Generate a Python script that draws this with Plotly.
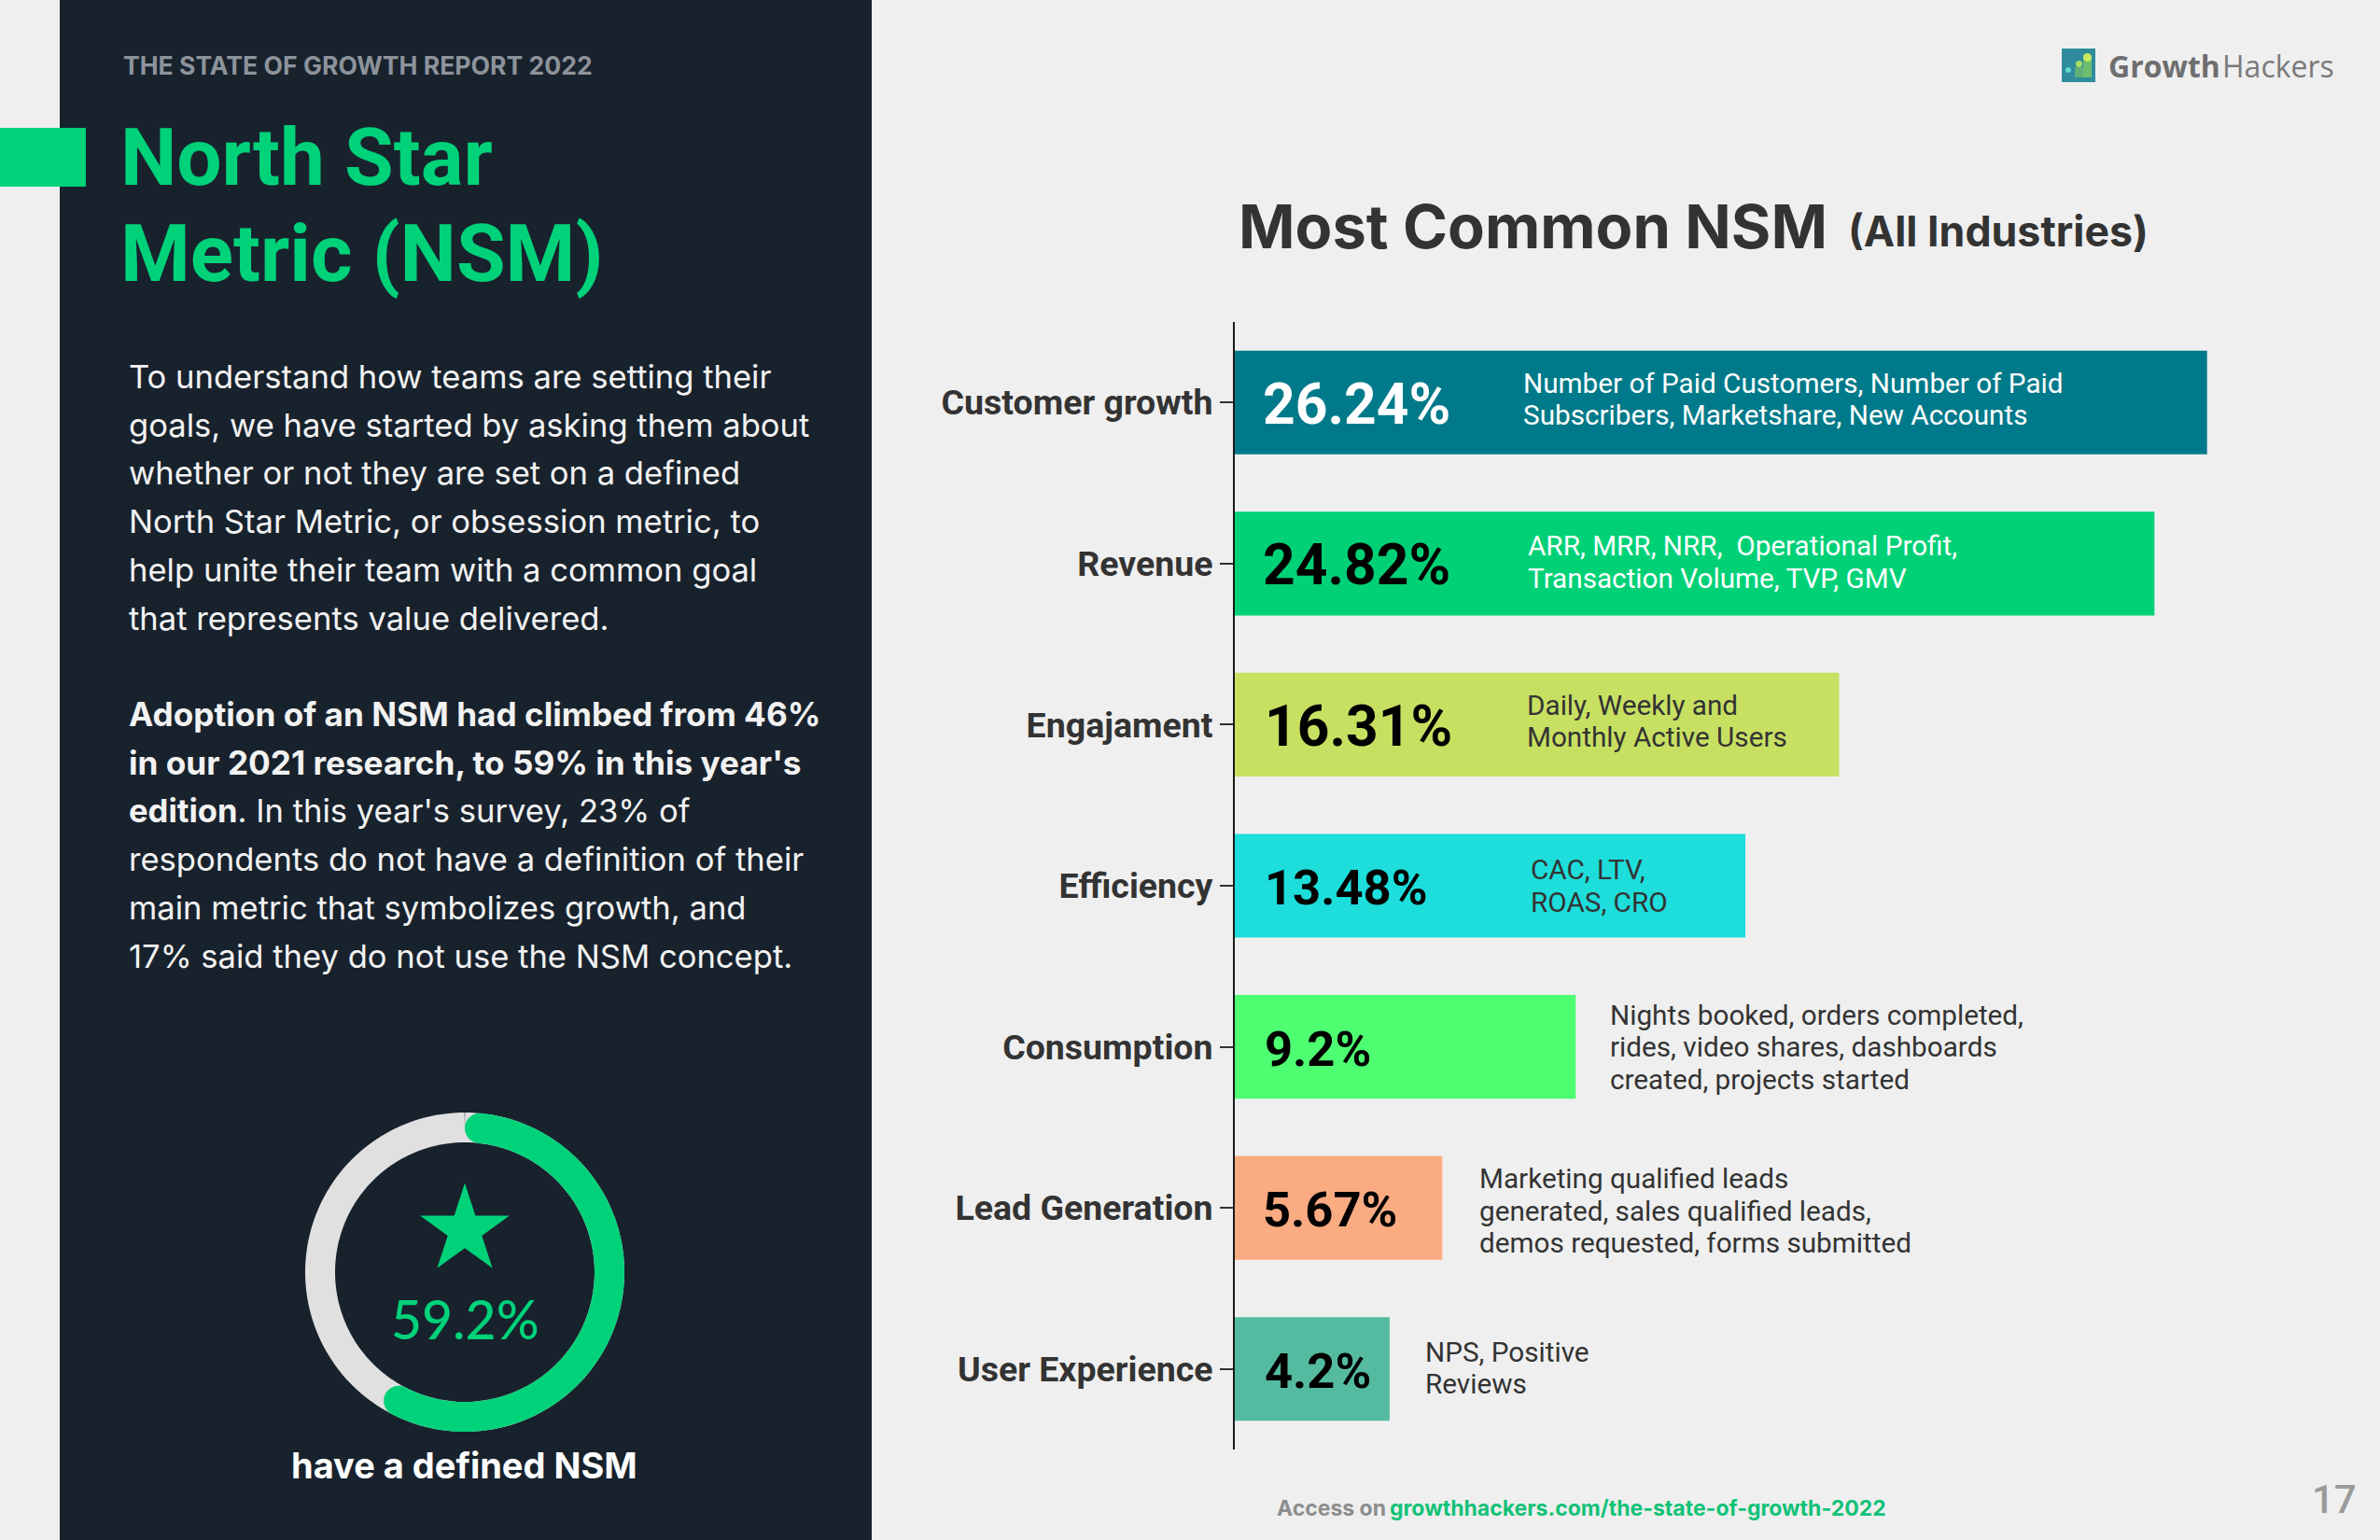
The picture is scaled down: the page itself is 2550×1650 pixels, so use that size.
import numpy as np
import plotly.graph_objects as go

W = 2550
H = 1650

# ---- chart data ----
categories = ["Customer growth", "Revenue", "Engajament", "Efficiency", "Consumption", "Lead Generation", "User Experience"]
# bar lengths as measured on the picture, efficiency and lead generation differ a bit from their labels
bar_lengths = [26.24, 24.82, 16.31, 13.78, 9.2, 5.6, 4.18]
value_labels = ["26.24%", "24.82%", "16.31%", "13.48%", "9.2%", "5.67%", "4.2%"]
descriptions = [
    ["Number of Paid Customers, Number of Paid", "Subscribers, Marketshare, New Accounts"],
    ["ARR, MRR, NRR,  Operational Profit,", "Transaction Volume, TVP, GMV"],
    ["Daily, Weekly and", "Monthly Active Users"],
    ["CAC, LTV,", "ROAS, CRO"],
    ["Nights booked, orders completed,", "rides, video shares, dashboards", "created, projects started"],
    ["Marketing qualified leads", "generated, sales qualified leads,", "demos requested, forms submitted"],
    ["NPS, Positive", "Reviews"],
]
donut_pct = 59.2

intro_lines = [
    "To understand how teams are setting their",
    "goals, we have started by asking them about",
    "whether or not they are set on a defined",
    "North Star Metric, or obsession metric, to",
    "help unite their team with a common goal",
    "that represents value delivered.",
]
adoption_lines = [
    "<b>Adoption of an NSM had climbed from 46%</b>",
    "<b>in our 2021 research, to 59% in this year's</b>",
    "<b>edition</b>. In this year's survey, 23% of",
    "respondents do not have a definition of their",
    "main metric that symbolizes growth, and",
    "17% said they do not use the NSM concept.",
]

# ---- styles ----
BG = "#EFEFEF"
DARK = "#18222D"
GREEN = "#00D27A"
TEXT = "#333333"
WIDE = "Inter"
bar_colors = ["#007A8A", "#00D177", "#C8E062", "#1DDEDB", "#4EFF72", "#FBAB82", "#55BBA0"]
value_colors = ["white", "black", "black", "black", "black", "black", "black"]
value_sizes = [60.5, 60.5, 60.5, 52.5, 52.5, 52.5, 52.5]
value_shift = [28, 28, 30, 30, 30, 28, 30]
desc_colors = ["white", "white", TEXT, TEXT, TEXT, TEXT, TEXT]
desc_x = [1630, 1635, 1634, 1638, 1723, 1583, 1525]
desc_dy = [-4, -2, -4, 0, 0, 3, -1]
adoption_sizes = [35.2, 35.2, 34.6, 34.6, 34.6, 34.6]

# pixel layout
AXIS_X = 1323
PX_PER_PCT = 39.7
AXIS_TOP = 345
AXIS_BOTTOM = 1553
CX, CY = 498, 1363


def fx(x):
    return x / W


def fy(y):
    return 1 - y / H


annotations = []


def txt(s, x, y, size, color, family=WIDE, anchor="left", weight=None):
    annotations.append(dict(
        text=s, x=fx(x), y=fy(y), xref="paper", yref="paper", xanchor=anchor, yanchor="middle",
        showarrow=False, font=dict(size=size, color=color, family=family, weight=weight), align=anchor,
    ))


fig = go.Figure()

# bars
fig.add_trace(go.Bar(
    y=categories, x=bar_lengths, orientation="h", marker=dict(color=bar_colors, line=dict(width=0)),
    hoverinfo="skip", showlegend=False,
))

# donut, drawn on a polar subplot so that the ends can be rounded
RING_R = 155
RING_W = 32
cap_deg = np.degrees(RING_W / 2 / RING_R)
fig.add_trace(go.Scatterpolar(
    r=[RING_R] * 181, theta=np.linspace(0, 360, 181), mode="lines",
    line=dict(color="#E0E0E0", width=RING_W), hoverinfo="skip", showlegend=False,
))
arc_theta = np.linspace(cap_deg, donut_pct * 3.6 - cap_deg, 121)
fig.add_trace(go.Scatterpolar(
    r=[RING_R] * 121, theta=arc_theta, mode="lines",
    line=dict(color=GREEN, width=RING_W), hoverinfo="skip", showlegend=False,
))
fig.add_trace(go.Scatterpolar(
    r=[RING_R, RING_R], theta=[arc_theta[0], arc_theta[-1]], mode="markers",
    marker=dict(color=GREEN, size=RING_W, line=dict(width=0)), hoverinfo="skip", showlegend=False,
))
fig.add_trace(go.Scatterpolar(
    r=[45], theta=[0], mode="markers",
    marker=dict(color=GREEN, size=72, symbol="star", line=dict(width=0)), hoverinfo="skip", showlegend=False,
))

# value labels and descriptions of the bars
for i, cat in enumerate(categories):
    annotations.append(dict(
        text="<b>" + value_labels[i] + "</b>", x=0, y=cat, xref="x", yref="y", xanchor="left", yanchor="middle",
        xshift=value_shift[i], yshift=-2, showarrow=False,
        font=dict(size=value_sizes[i], color=value_colors[i], family="Roboto"),
    ))
    n = len(descriptions[i])
    for j, line in enumerate(descriptions[i]):
        annotations.append(dict(
            text=line, x=fx(desc_x[i]), y=cat, xref="paper", yref="y", xanchor="left", yanchor="middle",
            yshift=-(desc_dy[i] + (j - (n - 1) / 2) * 34.5), showarrow=False,
            font=dict(size=29.7, color=desc_colors[i], family="Roboto"),
        ))

# left panel text
txt("<b>THE STATE OF GROWTH REPORT 2022</b>", 130, 70, 26.6, "#8D939B")
txt("<b>North Star</b>", 127, 169, 85.5, GREEN, family="Roboto")
txt("<b>Metric (NSM)</b>", 127, 272, 85.5, GREEN, family="Roboto")
for k, line in enumerate(intro_lines):
    txt(line, 136, 403 + k * 51.7, 34.6, "#F2F2F2")
for k, line in enumerate(adoption_lines):
    txt(line, 136, 765 + k * 51.7, adoption_sizes[k], "#F2F2F2")
txt("59.2%", CX, 1413, 57, GREEN, family="Lato", anchor="center", weight=500)
txt("<b>have a defined NSM</b>", 497, 1570, 38, "white", anchor="center")

# right side headings and footer
txt("<b>Most Common NSM</b>", 1325, 243, 65, TEXT)
txt("<b>(All Industries)</b>", 1978, 248, 44.7, TEXT)
txt("<b>Growth</b>", 2257, 71, 32, "#6E6E6E", family="Open Sans")
txt("Hackers", 2379, 71, 32, "#7A7A7A", family="Open Sans")
txt("17", 2527, 1606, 42, "#9A9A9A", family="Roboto", anchor="right", weight=500)
txt("<b>Access on</b>", 1366, 1616, 23, "#8D8D8D")
txt("<b>growthhackers.com/the-state-of-growth-2022</b>", 1487, 1616, 23, "#12C277")


def rect(x0, y0, x1, y1, color):
    return dict(type="rect", xref="paper", yref="paper", x0=fx(x0), x1=fx(x1), y0=fy(y1), y1=fy(y0),
                fillcolor=color, line=dict(width=0), layer="below")


def dot(x0, y0, x1, y1, color):
    d = rect(x0, y0, x1, y1, color)
    d["type"] = "circle"
    d["layer"] = "above"
    return d


def bar_piece(x0, y0, x1, y1, color):
    d = rect(x0, y0, x1, y1, color)
    d["layer"] = "above"
    return d


shapes = [
    rect(64, 0, 934, H, DARK),
    rect(0, 137, 92, 200, GREEN),
    # logo mark
    bar_piece(2209, 52, 2245, 88, "#2E8C9C"),
    bar_piece(2223, 72, 2232, 83, "#5FAF78"),
    bar_piece(2232, 62, 2241, 83, "#6DBD6E"),
    dot(2213, 72, 2219, 78, "#62D8C8"),
    dot(2224, 65, 2231, 72, "#A6DE66"),
    dot(2232, 57, 2241, 66, "#C9E85F"),
]

fig.update_layout(
    width=W,
    height=H,
    margin=dict(l=0, r=0, t=0, b=0),
    paper_bgcolor=BG,
    plot_bgcolor="rgba(0,0,0,0)",
    font=dict(family="Roboto", color=TEXT),
    bargap=0.356,
    xaxis=dict(domain=[fx(AXIS_X), 1], range=[0, (W - AXIS_X) / PX_PER_PCT], visible=False, fixedrange=True),
    yaxis=dict(
        domain=[fy(AXIS_BOTTOM), fy(AXIS_TOP)], type="category", categoryorder="array", categoryarray=categories,
        range=[6.5, -0.5], showgrid=False, zeroline=False, showline=True, linecolor="#1A1A1A", linewidth=2,
        ticks="outside", ticklen=14, tickwidth=2, tickcolor=TEXT,
        tickfont=dict(family="Roboto", size=37.5, color=TEXT, weight=700), fixedrange=True,
    ),
    polar=dict(
        domain=dict(x=[fx(CX - 180), fx(CX + 180)], y=[fy(CY + 180), fy(CY - 180)]),
        bgcolor="rgba(0,0,0,0)",
        radialaxis=dict(visible=False, range=[0, 180]),
        angularaxis=dict(visible=False, direction="clockwise", rotation=90),
    ),
    shapes=shapes,
    annotations=annotations,
)

fig.write_html("out.html", config=dict(displayModeBar=False), post_script="document.body.style.margin='0';")
